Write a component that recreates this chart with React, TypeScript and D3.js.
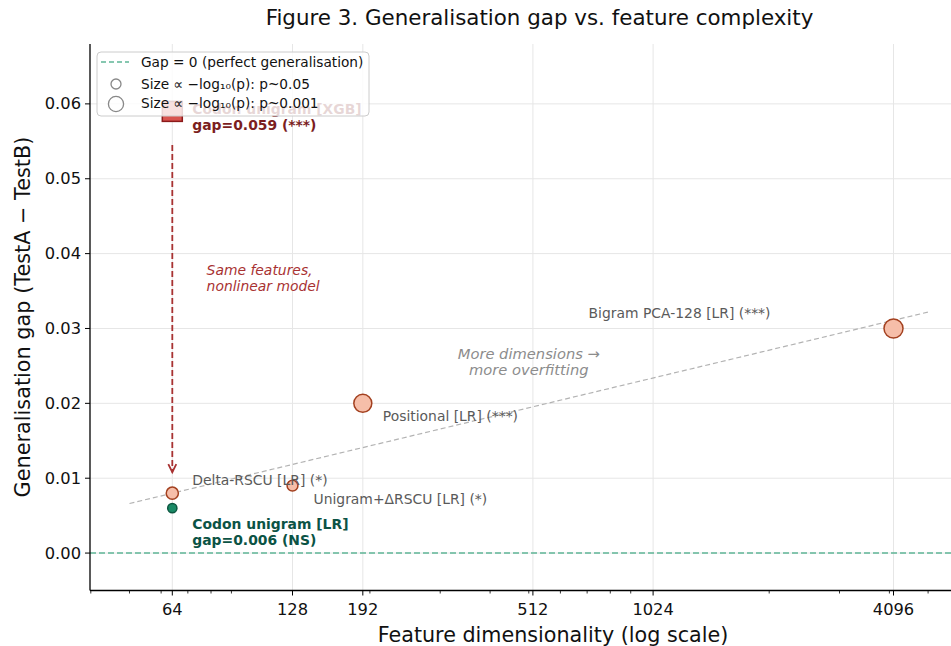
import * as d3 from 'd3'

// feature dimensionality, gap, and p-value of the gap for each model
const models = ['Codon unigram [XGB]', 'Delta-RSCU [LR]', 'Codon unigram [LR]', 'Unigram+ΔRSCU [LR]', 'Positional [LR]', 'Bigram PCA-128 [LR]']
const dims = [64, 64, 64, 128, 192, 4096]
const gaps = [0.059, 0.008, 0.006, 0.009, 0.02, 0.03]
const pValues = [0.0001, 0.012, 0.3, 0.03, 0.00006, 0.00002]
const stars = ['***', '*', 'NS', '*', '***', '***']

const xTicks = [64, 128, 192, 512, 1024, 4096]
const xMinorTicks = [40, 50, 60, 70, 80, 90, 200, 300, 400, 500, 600, 700, 800, 900, 2000, 3000, 4000, 5000]
const yTicks = [0, 0.01, 0.02, 0.03, 0.04, 0.05, 0.06]

const W = 951
const H = 646
const left = 90
const top = 44
const bottom = 590
const font = 'DejaVu Sans, sans-serif'
const fs = 13.9

const salmon = '#f6bea9'
const salmonEdge = '#a3401f'
const green = '#1a8a66'
const greenEdge = '#0c5640'
const darkRed = '#7b1e1e'
const gray = '#5a5a5a'

function App() {
    const x = d3.scaleLog().domain([40, 6000]).range([left + 0.8, left + 0.8 + 120.2 * Math.log2(6000 / 40)])
    const y = d3.scaleLinear().domain([-0.005, 0.068]).range([bottom + 0.5, top])
    const r = d3.scaleSqrt().domain([0, 5]).range([0, 9.8])
    const radius = (p: number) => Math.max(4.6, r(-Math.log10(p)))

    // least-squares trend over the LR models (log dimension)
    const lr = d3.range(1, dims.length)
    const lx = lr.map((i) => Math.log10(dims[i]))
    const ly = lr.map((i) => gaps[i])
    const mx = d3.mean(lx) as number
    const my = d3.mean(ly) as number
    const slope = d3.sum(lx, (v, k) => (v - mx) * (ly[k] - my)) / d3.sum(lx, (v) => (v - mx) ** 2)
    const trend = [50, 5000].map((d) => [x(d), y(my + slope * (Math.log10(d) - mx))] as [number, number])
    const trendPath = d3.line()(trend) as string

    const px = (i: number) => x(dims[i])
    const py = (i: number) => y(gaps[i])

    return (
        <svg width={W} height={H} style={{ position: 'absolute', left: 0, top: 0, background: '#fff' }} fontFamily={font}>
            <defs>
                <clipPath id="plot">
                    <rect x={left} y={top} width={W - left} height={bottom - top} />
                </clipPath>
            </defs>

            {/* grid */}
            {yTicks.map((t) => (
                <line key={'gy' + t} x1={left} x2={W} y1={y(t)} y2={y(t)} stroke="#e6e6e6" strokeWidth={1} />
            ))}
            {xTicks.map((t) => (
                <line key={'gx' + t} x1={x(t)} x2={x(t)} y1={top} y2={bottom} stroke="#e6e6e6" strokeWidth={1} />
            ))}

            <g clipPath="url(#plot)">
                {/* gap = 0 */}
                <line x1={left} x2={W} y1={y(0)} y2={y(0)} stroke="#5fb596" strokeWidth={1.5} strokeDasharray="6,3" />

                {/* trend */}
                <path d={trendPath} fill="none" stroke="#b3b3b3" strokeWidth={1.2} strokeDasharray="5,3" />

                {/* arrow from XGB to LR */}
                <line x1={px(0)} x2={px(0)} y1={y(0.0545)} y2={y(0.0108)} stroke="#a83232" strokeWidth={1.8} strokeDasharray="6,3" />
                <path
                    d={`M${px(0) - 4},${y(0.0108) - 8} L${px(0)},${y(0.0108)} L${px(0) + 4},${y(0.0108) - 8}`}
                    fill="none"
                    stroke="#a83232"
                    strokeWidth={1.8}
                />

                {/* XGB point + label (sits under the legend) */}
                <rect x={px(0) - 10} y={py(0) - 10} width={20} height={20} fill="#d9534f" stroke="#8b1a1a" strokeWidth={1.5} />
                <text x={px(0) + 20} y={py(0) - 2} fill={darkRed} fontSize={fs} fontWeight="bold" dominantBaseline="central">
                    {models[0]}
                </text>
                <text x={px(0) + 20} y={py(0) + 14} fill={darkRed} fontSize={fs} fontWeight="bold" dominantBaseline="central">
                    {`gap=${gaps[0].toFixed(3)} (${stars[0]})`}
                </text>

                {/* LR points */}
                {lr.map((i) => (
                    <circle
                        key={models[i]}
                        cx={px(i)}
                        cy={py(i)}
                        r={radius(pValues[i])}
                        fill={stars[i] === 'NS' ? green : salmon}
                        stroke={stars[i] === 'NS' ? greenEdge : salmonEdge}
                        strokeWidth={1.5}
                    />
                ))}

                {/* point labels */}
                <text x={px(1) + 20} y={py(1) - 13} fill={gray} fontSize={fs} dominantBaseline="central">
                    {`${models[1]} (${stars[1]})`}
                </text>
                <text x={px(3) + 21} y={py(3) + 13} fill={gray} fontSize={fs} dominantBaseline="central">
                    {`${models[3]} (${stars[3]})`}
                </text>
                <text x={px(4) + 20} y={py(4) + 13} fill={gray} fontSize={fs} dominantBaseline="central">
                    {`${models[4]} (${stars[4]})`}
                </text>
                <text x={px(5) - 123} y={py(5) - 15} fill={gray} fontSize={fs} textAnchor="end" dominantBaseline="central">
                    {`${models[5]} (${stars[5]})`}
                </text>
                <text x={px(2) + 20} y={py(2) + 16} fill="#0b5345" fontSize={fs} fontWeight="bold" dominantBaseline="central">
                    {models[2]}
                </text>
                <text x={px(2) + 20} y={py(2) + 32} fill="#0b5345" fontSize={fs} fontWeight="bold" dominantBaseline="central">
                    {`gap=${gaps[2].toFixed(3)} (${stars[2]})`}
                </text>

                {/* free notes */}
                <text x={x(78)} y={y(0.0378)} fill="#a83232" fontSize={fs} fontStyle="italic" dominantBaseline="central">
                    <tspan x={x(78)}>Same features,</tspan>
                    <tspan x={x(78)} dy={16}>nonlinear model</tspan>
                </text>
                <text x={x(500)} y={y(0.0267)} fill="#8c8c8c" fontSize={14.7} fontStyle="italic" textAnchor="middle" dominantBaseline="central">
                    <tspan x={x(500)}>More dimensions →</tspan>
                    <tspan x={x(500)} dy={16}>more overfitting</tspan>
                </text>
            </g>

            {/* legend */}
            <rect x={97} y={52} width={272} height={64} rx={4} fill="#fff" fillOpacity={0.82} stroke="#cccccc" />
            <line x1={101} x2={129} y1={62} y2={62} stroke="#5fb596" strokeWidth={1.5} strokeDasharray="5,3" />
            <text x={141} y={62} fontSize={13.7} fill="#111" dominantBaseline="central">
                Gap = 0 (perfect generalisation)
            </text>
            <circle cx={116} cy={84} r={radius(0.05)} fill="none" stroke="#888" strokeWidth={1.3} />
            <text x={141} y={84} fontSize={13.7} fill="#111" dominantBaseline="central">
                Size ∝ −log₁₀(p): p~0.05
            </text>
            <circle cx={116} cy={104} r={radius(0.001)} fill="none" stroke="#888" strokeWidth={1.3} />
            <text x={141} y={103} fontSize={13.7} fill="#111" dominantBaseline="central">
                Size ∝ −log₁₀(p): p~0.001
            </text>

            {/* axes */}
            <line x1={left} x2={left} y1={top} y2={bottom + 0.5} stroke="#000" strokeWidth={1.3} />
            <line x1={left} x2={W} y1={bottom + 0.5} y2={bottom + 0.5} stroke="#000" strokeWidth={1.3} />
            {yTicks.map((t) => (
                <g key={'yt' + t}>
                    <line x1={left - 5} x2={left} y1={y(t)} y2={y(t)} stroke="#000" strokeWidth={1} />
                    <text x={left - 9} y={y(t)} fontSize={16.3} textAnchor="end" dominantBaseline="central" fill="#111">
                        {d3.format('.2f')(t)}
                    </text>
                </g>
            ))}
            {xMinorTicks.map((t) => (
                <line key={'xm' + t} x1={x(t)} x2={x(t)} y1={bottom} y2={bottom + 3.5} stroke="#000" strokeWidth={0.8} />
            ))}
            {xTicks.map((t) => (
                <g key={'xt' + t}>
                    <line x1={x(t)} x2={x(t)} y1={bottom} y2={bottom + 5.5} stroke="#000" strokeWidth={1} />
                    <text x={x(t)} y={bottom + 19} fontSize={16.3} textAnchor="middle" dominantBaseline="central" fill="#111">
                        {t}
                    </text>
                </g>
            ))}

            <text x={553} y={634.5} fontSize={20.7} textAnchor="middle" dominantBaseline="central" fill="#111">
                Feature dimensionality (log scale)
            </text>
            <text
                transform={`translate(23, ${(top + bottom) / 2}) rotate(-90)`}
                fontSize={20.8}
                textAnchor="middle"
                dominantBaseline="central"
                fill="#111"
            >
                Generalisation gap (TestA − TestB)
            </text>
            <text x={539.5} y={17} fontSize={21.4} textAnchor="middle" dominantBaseline="central" fill="#111">
                Figure 3. Generalisation gap vs. feature complexity
            </text>
        </svg>
    )
}

export default App
